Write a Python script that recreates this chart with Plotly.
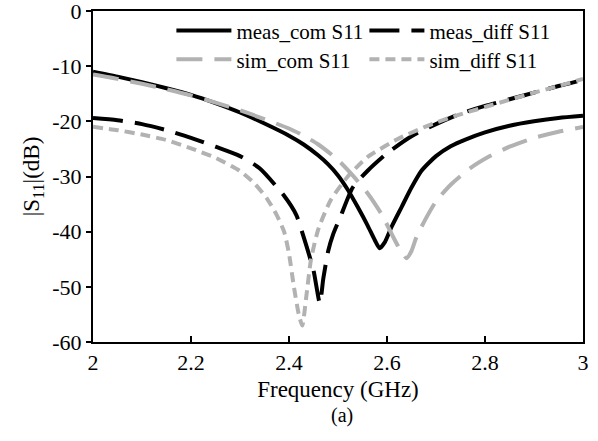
import plotly.graph_objects as go

# ---------------- data ----------------
meas_com_f = [2.00, 2.05, 2.10, 2.15, 2.20, 2.25, 2.30, 2.35, 2.40, 2.43, 2.46, 2.48, 2.50, 2.52,
              2.54, 2.56, 2.575, 2.585, 2.595, 2.61, 2.63, 2.65, 2.67, 2.70, 2.73, 2.76, 2.80,
              2.85, 2.90, 2.95, 3.00]
meas_com_db = [-11.0, -11.9, -12.9, -14.0, -15.2, -16.7, -18.4, -20.4, -22.6, -24.2, -26.2, -27.8,
               -29.8, -32.4, -35.5, -38.8, -41.5, -43.0, -42.0, -39.0, -35.5, -32.0, -29.0, -26.3,
               -24.5, -23.3, -22.0, -20.8, -20.0, -19.4, -19.0]

meas_diff_f = [2.00, 2.05, 2.10, 2.15, 2.20, 2.25, 2.30, 2.34, 2.39, 2.415, 2.43, 2.45, 2.463,
               2.47, 2.48, 2.49, 2.505, 2.53, 2.56, 2.60, 2.65, 2.70, 2.75, 2.80, 2.85, 2.90,
               2.95, 3.00]
meas_diff_db = [-19.4, -19.8, -20.5, -21.6, -23.0, -24.6, -26.3, -28.5, -33.5, -37.0, -41.0, -47.0,
                -53.0, -48.5, -43.5, -40.5, -37.3, -32.0, -29.0, -25.8, -22.7, -20.5, -18.6,
                -17.2, -16.0, -14.8, -13.6, -12.5]

sim_com_f = [2.00, 2.05, 2.10, 2.15, 2.20, 2.25, 2.30, 2.35, 2.40, 2.43, 2.46, 2.50, 2.53, 2.56,
             2.59, 2.61, 2.625, 2.64, 2.65, 2.66, 2.68, 2.70, 2.73, 2.77, 2.81, 2.85, 2.90,
             2.95, 3.00]
sim_com_db = [-11.5, -12.3, -13.2, -14.2, -15.3, -16.6, -18.0, -19.6, -21.3, -22.6, -24.2, -27.0,
              -29.8, -33.0, -37.0, -40.5, -43.0, -44.8, -43.5, -41.0, -37.5, -34.5, -31.5,
              -28.5, -26.3, -24.6, -23.0, -21.9, -21.0]

sim_diff_f = [2.00, 2.05, 2.10, 2.15, 2.20, 2.25, 2.30, 2.33, 2.355, 2.375, 2.39, 2.40, 2.41,
              2.42, 2.427, 2.435, 2.445, 2.46, 2.485, 2.52, 2.56, 2.62, 2.68, 2.74, 2.80,
              2.85, 2.90, 2.95, 3.00]
sim_diff_db = [-21.0, -21.6, -22.4, -23.4, -24.9, -26.6, -29.0, -31.3, -34.0, -37.0, -40.0, -44.0,
               -50.0, -55.0, -57.0, -52.0, -45.0, -39.5, -34.3, -30.0, -26.5, -23.3, -20.9,
               -19.0, -17.4, -16.1, -14.8, -13.6, -12.3]

x_ticks = [2, 2.2, 2.4, 2.6, 2.8, 3]
x_tick_text = ["2", "2.2", "2.4", "2.6", "2.8", "3"]
y_ticks = [0, -10, -20, -30, -40, -50, -60]
y_tick_text = ["0", "-10", "-20", "-30", "-40", "-50", "-60"]

GRAY = "rgb(178,178,178)"
FONT = "Liberation Serif, Times New Roman, Times, serif"

fig = go.Figure()
fig.add_trace(go.Scatter(x=meas_com_f, y=meas_com_db, mode="lines", name="meas_com S11",
                         line=dict(color="black", width=4, shape="spline", smoothing=0.6),
                         legend="legend"))
fig.add_trace(go.Scatter(x=meas_diff_f, y=meas_diff_db, mode="lines", name="meas_diff S11",
                         line=dict(color="black", width=4, dash="30px,12px", shape="spline", smoothing=0.6),
                         legend="legend"))
fig.add_trace(go.Scatter(x=sim_com_f, y=sim_com_db, mode="lines", name="sim_com S11",
                         line=dict(color=GRAY, width=4, dash="26px,12px", shape="spline", smoothing=0.6),
                         legend="legend2"))
fig.add_trace(go.Scatter(x=sim_diff_f, y=sim_diff_db, mode="lines", name="sim_diff S11",
                         line=dict(color=GRAY, width=4, dash="10px,6px", shape="spline", smoothing=0.6),
                         legend="legend2"))

leg_common = dict(orientation="h", xanchor="left", yanchor="middle",
                  font=dict(family=FONT, size=21, color="black"),
                  bgcolor="rgba(0,0,0,0)", entrywidth=123, entrywidthmode="pixels",
                  itemwidth=55, tracegroupgap=0)

fig.update_layout(
    width=598, height=441,
    margin=dict(l=93, r=15, t=11, b=99, autoexpand=False),
    paper_bgcolor="white", plot_bgcolor="white",
    font=dict(family=FONT, size=22, color="black"),
    showlegend=True,
    legend=dict(x=0.16, y=0.94, **leg_common),
    legend2=dict(x=0.16, y=0.853, **leg_common),
    xaxis=dict(range=[2, 3], tickvals=x_ticks, ticktext=x_tick_text,
               ticks="inside", ticklen=6, tickwidth=1.5, tickcolor="black",
               showline=True, linewidth=2, linecolor="black", mirror=True,
               showgrid=False, zeroline=False, ticklabeloverflow="allow",
               tickfont=dict(family=FONT, size=22),
               title=dict(text="Frequency (GHz)", font=dict(family=FONT, size=23), standoff=6)),
    yaxis=dict(range=[-60, 0], tickvals=y_ticks, ticktext=y_tick_text,
               ticks="outside", ticklen=5, tickwidth=1.5, tickcolor="black",
               showline=True, linewidth=2, linecolor="black", mirror=True,
               showgrid=False, zeroline=False, ticklabeloverflow="allow",
               tickfont=dict(family=FONT, size=22),
               title=dict(text="|S<sub>11</sub>|(dB)", font=dict(family=FONT, size=23), standoff=6)),
    annotations=[dict(text="(a)", xref="paper", yref="paper", x=0.508, y=-0.262,
                      showarrow=False, font=dict(family=FONT, size=20, color="black"))],
)

# remove the default 8px page margin so the figure sits at the window's top-left corner
fig.write_html("out.html", config={"displayModeBar": False},
               post_script="document.body.style.margin='0';")
